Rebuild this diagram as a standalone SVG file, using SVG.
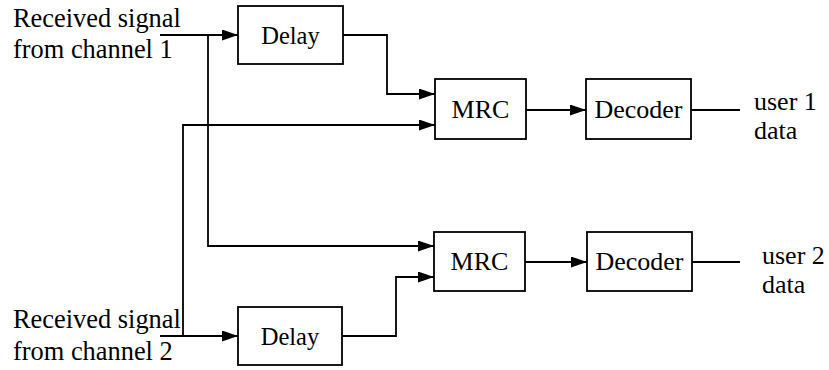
<svg xmlns="http://www.w3.org/2000/svg" width="829" height="370" viewBox="0 0 829 370">
  <style>
    .box { fill: #ffffff; stroke: #000000; stroke-width: 1.8; }
    .wire { fill: none; stroke: #000000; stroke-width: 1.8; }
    .lbl { font-family: "Liberation Serif", "Times New Roman", serif; font-size: 26px; fill: #000000; }
    .in { font-size: 26.4px; }
    .dly { font-size: 24.5px; }
    .mid { text-anchor: middle; }
  </style>
  <defs>
    <marker id="arrow" markerUnits="userSpaceOnUse" markerWidth="16" markerHeight="11" refX="16" refY="5.5" orient="auto">
      <path d="M0,0 L16,5.5 L0,11 z" fill="#000000"/>
    </marker>
  </defs>

  <rect width="829" height="370" fill="#ffffff"/>

  <!-- signal paths -->
  <g id="connectors">
    <path class="wire" d="M160,35 H238" marker-end="url(#arrow)"/>
    <path class="wire" d="M208,35 V246 H434" marker-end="url(#arrow)"/>
    <path class="wire" d="M343,35 H387 V94 H435" marker-end="url(#arrow)"/>
    <path class="wire" d="M160,336 H238" marker-end="url(#arrow)"/>
    <path class="wire" d="M183,336 V125 H435" marker-end="url(#arrow)"/>
    <path class="wire" d="M342,336 H396 V277 H434" marker-end="url(#arrow)"/>
    <path class="wire" d="M526,110 H586" marker-end="url(#arrow)"/>
    <path class="wire" d="M691,110 H740"/>
    <path class="wire" d="M525,262 H587" marker-end="url(#arrow)"/>
    <path class="wire" d="M692,262 H740"/>
  </g>

  <!-- inputs -->
  <g id="input1">
    <text class="lbl in" x="13" y="27">Received signal</text>
    <text class="lbl in" x="13" y="58">from channel 1</text>
  </g>
  <g id="input2">
    <text class="lbl in" x="13" y="328">Received signal</text>
    <text class="lbl in" x="13" y="360">from channel 2</text>
  </g>

  <!-- branch 1 -->
  <g id="delay1">
    <rect class="box" x="238" y="6" width="105" height="58"/>
    <text class="lbl dly mid" x="290.5" y="44">Delay</text>
  </g>
  <g id="mrc1">
    <rect class="box" x="435" y="79" width="91" height="60"/>
    <text class="lbl mid" x="480.5" y="118">MRC</text>
  </g>
  <g id="decoder1">
    <rect class="box" x="586" y="79" width="105" height="60"/>
    <text class="lbl mid" x="638.5" y="118">Decoder</text>
  </g>
  <g id="output1">
    <text class="lbl" x="754" y="110">user 1</text>
    <text class="lbl" x="754" y="139">data</text>
  </g>

  <!-- branch 2 -->
  <g id="delay2">
    <rect class="box" x="238" y="307" width="104" height="58"/>
    <text class="lbl dly mid" x="290" y="345">Delay</text>
  </g>
  <g id="mrc2">
    <rect class="box" x="434" y="232" width="91" height="59"/>
    <text class="lbl mid" x="479.5" y="270">MRC</text>
  </g>
  <g id="decoder2">
    <rect class="box" x="587" y="232" width="105" height="59"/>
    <text class="lbl mid" x="639.5" y="270">Decoder</text>
  </g>
  <g id="output2">
    <text class="lbl" x="762" y="264">user 2</text>
    <text class="lbl" x="762" y="293">data</text>
  </g>
</svg>
